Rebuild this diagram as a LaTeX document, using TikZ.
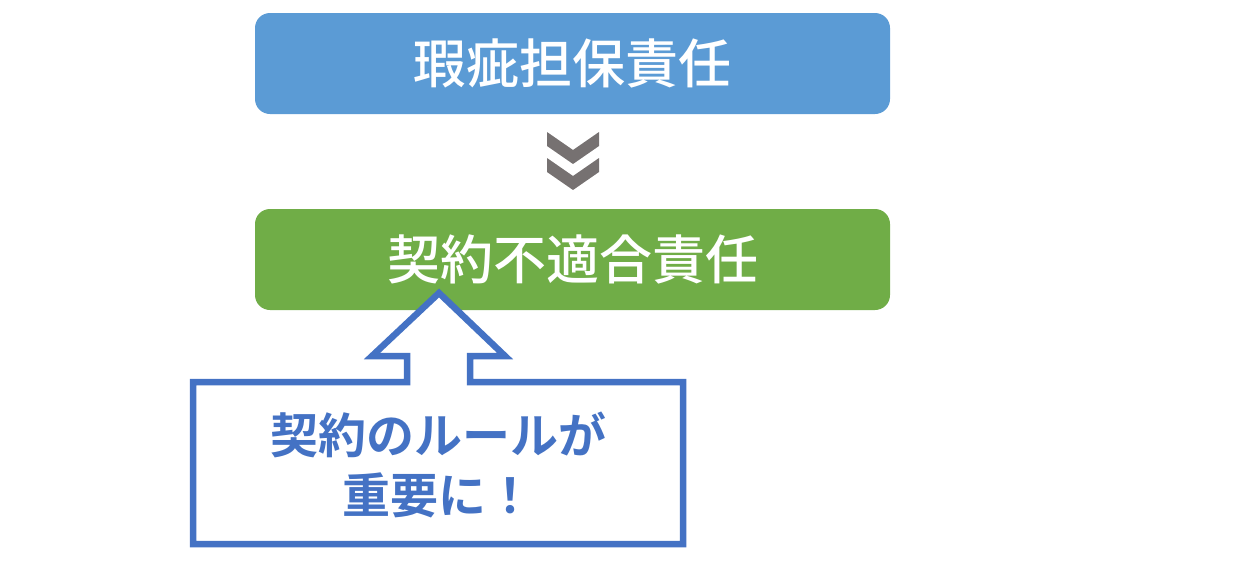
\documentclass[tikz,border=0pt]{standalone}
\usepackage{fontspec}
\newfontfamily\jp{Noto Sans CJK JP}[UprightFont={* Medium}]
\newfontfamily\jpb{Noto Sans CJK JP}[UprightFont={* Bold}]
\definecolor{topblue}{HTML}{5B9BD5}
\definecolor{topgreen}{HTML}{70AD47}
\definecolor{callblue}{HTML}{4472C4}
\definecolor{chevgray}{HTML}{767171}
\tikzset{
  bigbox/.style={rounded corners=15pt, minimum width=635pt, minimum height=101pt, inner sep=0pt, text=white, font=\jp\fontsize{53}{60}\selectfont},
  chev/.style={fill=chevgray, draw=none},
  callout/.style={draw=callblue, line width=6.5pt, fill=white, miter limit=10},
  calltext/.style={text=callblue, font=\jpb\fontsize{48}{60}\selectfont, align=center, inner sep=0pt}
}
\begin{document}
\begin{tikzpicture}[x=1pt,y=-1pt]
\useasboundingbox (0,0) rectangle (1260,563);
\node[bigbox, fill=topblue] (top) at (572.5,63.5) {瑕疵担保責任};
\node[bigbox, fill=topgreen] (mid) at (572.5,259.5) {契約不適合責任};
% chevrons
\fill[chev] (547,132) -- (573,150) -- (599,132) -- (599,146) -- (573,164) -- (547,146) -- cycle;
\fill[chev] (547,158) -- (573,176) -- (599,158) -- (599,172) -- (573,190) -- (547,172) -- cycle;
% callout
\draw[callout] (193,382) -- (407,382) -- (407,356) -- (372,356) -- (439,293) -- (505,356) -- (470,356) -- (470,382) -- (683,382) -- (683,544) -- (193,544) -- cycle;
\node[calltext] (note) at (438,465) {契約のルールが\\重要に！};
\end{tikzpicture}
\end{document}
